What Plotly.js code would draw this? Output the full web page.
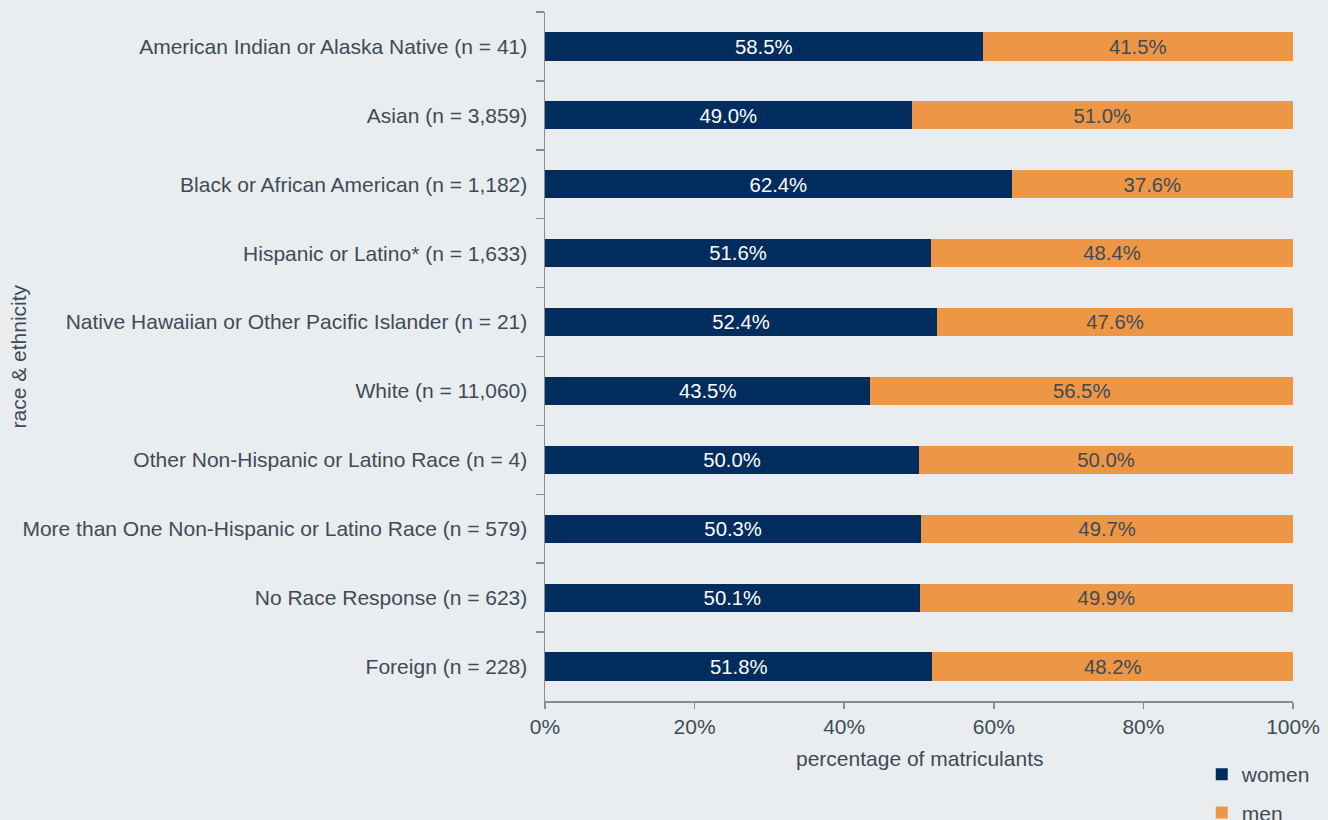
<!DOCTYPE html>
<html>
<head>
<meta charset="utf-8">
<script src="https://cdn.plot.ly/plotly-3.0.1.min.js"></script>
<style>
html,body{margin:0;padding:0;background:#e9edef;}
#chart{width:1328px;height:820px;}
</style>
</head>
<body>
<div id="chart"></div>
<script>
const categories = [
  "American Indian or Alaska Native (n = 41)",
  "Asian (n = 3,859)",
  "Black or African American (n = 1,182)",
  "Hispanic or Latino* (n = 1,633)",
  "Native Hawaiian or Other Pacific Islander (n = 21)",
  "White (n = 11,060)",
  "Other Non-Hispanic or Latino Race (n = 4)",
  "More than One Non-Hispanic or Latino Race (n = 579)",
  "No Race Response (n = 623)",
  "Foreign (n = 228)"
];
const women = [58.5, 49.0, 62.4, 51.6, 52.4, 43.5, 50.0, 50.3, 50.1, 51.8];
const men   = [41.5, 51.0, 37.6, 48.4, 47.6, 56.5, 50.0, 49.7, 49.9, 48.2];
const xTicks = [0, 20, 40, 60, 80, 100];
const xTickLabels = ["0%", "20%", "40%", "60%", "80%", "100%"];

const FONT = "Liberation Sans, Arial, sans-serif";
const TXT = "#3e4b56";
const FS = 21;

const traces = [
  {
    type: "bar", orientation: "h", name: "women", legendgroup: "a",
    y: categories, x: women,
    marker: {color: "#002d5e"},
    width: 0.41,
    texttemplate: "%{x:.1f}%", textposition: "inside", insidetextanchor: "middle",
    textfont: {color: "#ffffff", size: FS, family: FONT},
    hoverinfo: "x+y"
  },
  {
    type: "bar", orientation: "h", name: "men", legendgroup: "b",
    y: categories, x: men,
    marker: {color: "#ed9646"},
    width: 0.41,
    texttemplate: "%{x:.1f}%", textposition: "inside", insidetextanchor: "middle",
    textfont: {color: TXT, size: FS, family: FONT},
    hoverinfo: "x+y"
  }
];

const layout = {
  width: 1328, height: 820,
  paper_bgcolor: "#e9edef", plot_bgcolor: "#e9edef",
  font: {family: FONT, size: FS, color: TXT},
  barmode: "stack",
  margin: {l: 545, r: 35, t: 12, b: 119, autoexpand: false},
  showlegend: true,
  legend: {
    x: 0.878, xanchor: "left", xref: "paper",
    y: 1 - 754/820, yanchor: "top", yref: "container",
    traceorder: "grouped", tracegroupgap: 8,
    bgcolor: "rgba(0,0,0,0)", font: {size: FS, color: TXT},
    itemwidth: 30
  },
  xaxis: {
    range: [0, 100], tickmode: "array", tickvals: xTicks, ticktext: xTickLabels,
    showgrid: false, zeroline: false,
    showline: true, linecolor: "#8c8c8c", linewidth: 1.5,
    ticks: "outside", ticklen: 6, tickcolor: "#8c8c8c", tickwidth: 1.5,
    tickfont: {size: FS, color: TXT},
    automargin: false,
    fixedrange: true
  },
  yaxis: {
    type: "category", autorange: "reversed",
    showgrid: false, zeroline: false,
    showline: true, linecolor: "#8c8c8c", linewidth: 1.5,
    ticks: "outside", ticklen: 8, tickcolor: "#8c8c8c", tickwidth: 1.5,
    tickson: "boundaries",
    tickfont: {size: FS, color: TXT},
    ticklabelstandoff: 12,
    automargin: false,
    fixedrange: true
  },
  annotations: [
    {
      text: "race & ethnicity", xref: "paper", yref: "paper",
      x: -545/748 + 18/748, y: 0.5, xanchor: "center", yanchor: "middle",
      textangle: -90, showarrow: false, font: {size: FS, color: TXT}
    },
    {
      text: "percentage of matriculants", xref: "paper", yref: "paper",
      x: 0.5, y: -57/689, xanchor: "center", yanchor: "middle",
      showarrow: false, font: {size: FS, color: TXT}
    }
  ]
};

Plotly.newPlot("chart", traces, layout, {displayModeBar: false, staticPlot: true});
</script>
</body>
</html>
